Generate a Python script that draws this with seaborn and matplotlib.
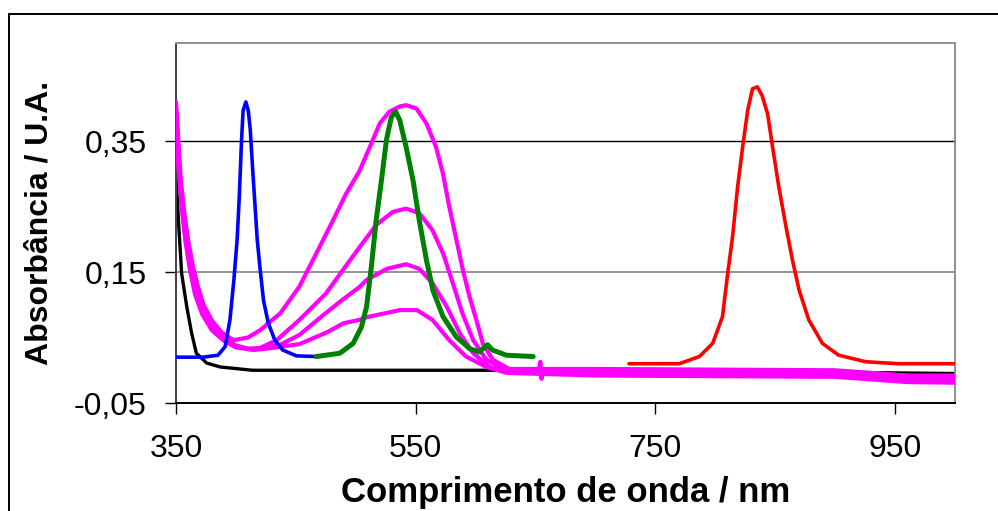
import matplotlib
matplotlib.use("Agg")
import matplotlib.pyplot as plt
import seaborn as sns
import pandas as pd
from matplotlib.patches import Rectangle

# ---------------- data ----------------
black_x = [350, 350.6, 352, 354.7, 359, 363, 367, 375.6, 387, 414, 500, 620, 700, 800, 900, 1000]
black_y = [0.30, 0.28, 0.23, 0.148, 0.097, 0.057, 0.026, 0.011, 0.005, 0.0, 0.0, 0.0, -0.001, -0.002, -0.003, -0.005]

blue_x = [350, 372.5, 385, 391, 395, 398.3, 401, 402.8, 404.7, 406, 408.3, 410.3, 412, 414, 416, 417.8,
          420, 423, 427, 432.5, 439, 450.5, 467]
blue_y = [0.020, 0.020, 0.023, 0.036, 0.077, 0.138, 0.199, 0.265, 0.352, 0.397, 0.410, 0.397, 0.367, 0.306,
          0.250, 0.199, 0.158, 0.107, 0.072, 0.046, 0.031, 0.022, 0.021]

green_x = [467, 486.7, 497.8, 504.7, 509, 513, 517, 521.4, 525.6, 529.7, 533.3, 536.7, 542, 547.8, 553, 559,
           564.4, 572.8, 583.9, 595, 603, 610, 614, 625.6, 648]
green_y = [0.021, 0.026, 0.041, 0.066, 0.097, 0.158, 0.229, 0.290, 0.352, 0.387, 0.395, 0.382, 0.341, 0.290,
           0.229, 0.168, 0.122, 0.082, 0.051, 0.033, 0.028, 0.039, 0.031, 0.023, 0.021]

red_x = [728, 770, 786.7, 797.8, 806, 810, 814.4, 818.6, 822.8, 827, 831, 835, 839, 843.6, 847.8, 853, 859,
         864.4, 870, 878, 889.4, 903, 925.6, 953, 1000]
red_y = [0.010, 0.010, 0.021, 0.041, 0.082, 0.143, 0.204, 0.280, 0.341, 0.397, 0.430, 0.433, 0.420, 0.392,
         0.341, 0.280, 0.219, 0.168, 0.122, 0.077, 0.041, 0.023, 0.013, 0.010, 0.010]

mag1_x = [350, 352, 354, 357, 360, 364, 368, 373, 380, 388, 398, 410, 420, 437, 453, 470, 481, 492, 503,
          511.7, 520, 528, 536.7, 542, 550.6, 559, 567, 572.8, 578, 584, 589.4, 595, 600.6, 606, 614.4, 628,
          648, 653, 654, 655, 656, 700, 800, 900, 930, 960, 1000]
mag1_y = [0.41, 0.35, 0.29, 0.24, 0.20, 0.16, 0.13, 0.10, 0.076, 0.058, 0.046, 0.050, 0.061, 0.087, 0.128,
          0.189, 0.229, 0.270, 0.304, 0.341, 0.377, 0.395, 0.403, 0.405, 0.400, 0.377, 0.341, 0.300, 0.250,
          0.199, 0.153, 0.112, 0.077, 0.041, 0.016, 0.002, 0.002, 0.002, 0.013, -0.013, 0.002, 0.002, 0.001,
          0.0, -0.004, -0.008, -0.008]

mag2_x = [350, 352, 355, 358, 362, 366, 372, 380, 390, 400, 410, 420, 434, 453, 475, 490, 502, 517, 531,
          542, 553, 564, 573, 581, 589, 598, 609, 626, 700, 800, 900, 930, 960, 1000]
mag2_y = [0.40, 0.33, 0.26, 0.21, 0.16, 0.125, 0.092, 0.066, 0.048, 0.038, 0.033, 0.034, 0.046, 0.077,
          0.117, 0.155, 0.185, 0.222, 0.242, 0.247, 0.240, 0.214, 0.178, 0.133, 0.087, 0.046, 0.016, 0.0,
          -0.001, -0.002, -0.003, -0.007, -0.011, -0.012]

mag3_x = [350, 352, 355, 358, 362, 366, 372, 380, 390, 400, 412, 425, 437, 453, 470, 487, 503, 509, 526,
          542, 553, 564, 576, 587, 598, 612, 630, 700, 800, 900, 930, 960, 1000]
mag3_y = [0.395, 0.32, 0.25, 0.20, 0.155, 0.12, 0.088, 0.063, 0.046, 0.036, 0.032, 0.035, 0.039, 0.054,
          0.080, 0.105, 0.127, 0.138, 0.155, 0.162, 0.155, 0.133, 0.097, 0.056, 0.026, 0.005, -0.003,
          -0.005, -0.006, -0.007, -0.011, -0.015, -0.016]

mag4_x = [350, 352, 355, 358, 362, 366, 372, 380, 390, 400, 415, 430, 453, 476, 490, 503, 509, 537, 551,
          564, 578, 592, 609, 626, 700, 800, 900, 930, 960, 1000]
mag4_y = [0.39, 0.31, 0.245, 0.195, 0.15, 0.115, 0.085, 0.061, 0.045, 0.035, 0.031, 0.034, 0.040, 0.058,
          0.072, 0.077, 0.081, 0.092, 0.092, 0.077, 0.046, 0.021, 0.005, -0.004, -0.008, -0.009, -0.010,
          -0.014, -0.018, -0.019]

x_ticks = [350, 550, 750, 950]
y_ticks = [-0.05, 0.15, 0.35]
y_tick_labels = ["-0,05", "0,15", "0,35"]
x_tick_labels = ["350", "550", "750", "950"]

# ---------------- plotting ----------------
sns.set_style("white")
plt.rcParams['font.family'] = ['Liberation Sans', 'DejaVu Sans']
plt.rcParams['text.color'] = 'black'
plt.rcParams['axes.labelcolor'] = 'black'

fig = plt.figure(figsize=(9.98, 5.11), dpi=100)
ax = fig.add_axes([176 / 998, 1 - 403 / 511, (955 - 176) / 998, (403 - 43) / 511])

series = [
    (black_x, black_y, "black", 2.4, 2),
    (mag1_x, mag1_y, "#FF00FF", 3.0, 3),
    (mag2_x, mag2_y, "#FF00FF", 3.0, 3),
    (mag3_x, mag3_y, "#FF00FF", 3.0, 3),
    (mag4_x, mag4_y, "#FF00FF", 3.0, 3),
    (blue_x, blue_y, "#0000FF", 2.6, 4),
    (green_x, green_y, "#008000", 3.6, 5),
    (red_x, red_y, "#FF0000", 2.6, 5),
]
for xs, ys, col, lw, z in series:
    df = pd.DataFrame({"x": xs, "y": ys})
    sns.lineplot(data=df, x="x", y="y", color=col, linewidth=lw, sort=False,
                 estimator=None, ax=ax, zorder=z)

ax.set_xlim(350, 1000)
ax.set_ylim(-0.05, 0.50)
ax.set_xticks(x_ticks)
ax.set_xticklabels(x_tick_labels)
ax.set_yticks(y_ticks)
ax.set_yticklabels(y_tick_labels)
ax.tick_params(axis='both', direction='out', length=8, width=1, colors='black',
               labelsize=23, left=True, bottom=True)
ax.tick_params(axis='y', pad=13)
ax.tick_params(axis='x', pad=14)

ax.yaxis.grid(True)
gl = ax.get_ygridlines()
gl[0].set_visible(False)
gl[1].set_color('#808080')
gl[1].set_linewidth(1.2)
gl[2].set_color('black')
gl[2].set_linewidth(1.0)

ax.spines['left'].set_color('#404040')
ax.spines['bottom'].set_color('black')
ax.spines['top'].set_color('#909090')
ax.spines['right'].set_color('#909090')
for s in ax.spines.values():
    s.set_linewidth(1.4)

ax.set_xlabel("Comprimento de onda / nm", fontsize=25, fontweight='bold', labelpad=9, color='black')
ax.set_ylabel("Absorbância / U.A.", fontsize=23, fontweight='bold', labelpad=14, color='black')

# outer chart frame (extends past the right and bottom edges)
fig.patches.append(Rectangle((9 / 998, -0.2), 1.2, 1 - 14 / 511 + 0.2,
                             transform=fig.transFigure, fill=False,
                             edgecolor='black', linewidth=1.4))

fig.savefig("out.png", dpi=100)
